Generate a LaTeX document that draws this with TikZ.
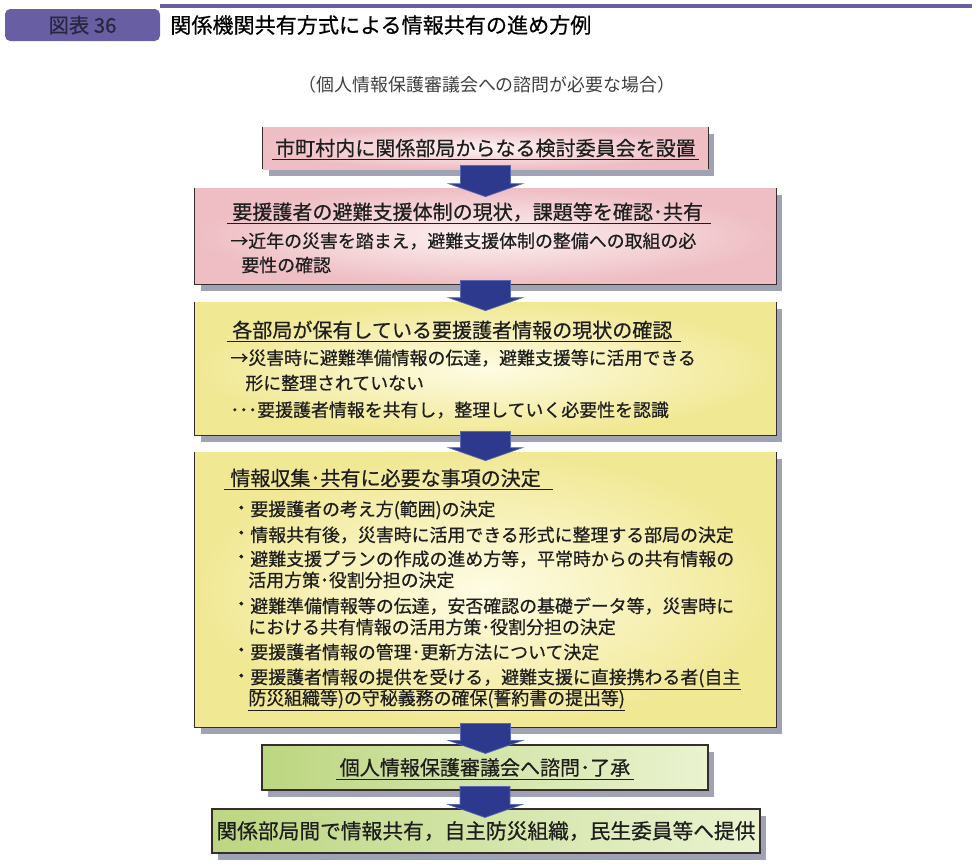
\documentclass[tikz,border=0pt]{standalone}
\usepackage{fontspec}
\setmainfont{Noto Sans CJK JP}
\newfontfamily\jpmedium{Noto Sans CJK JP}[FakeBold=0.6]
\usepackage{tikz}
\usetikzlibrary{calc,positioning,fit,shadows}
\definecolor{pinkdark}{RGB}{238,190,196}
\definecolor{pinklight}{RGB}{253,242,242}
\definecolor{yellowdark}{RGB}{241,232,148}
\definecolor{yellowlight}{RGB}{254,252,228}
\definecolor{greendark}{RGB}{188,214,128}
\definecolor{greenlight}{RGB}{234,243,208}
\definecolor{shadowgray}{RGB}{158,162,178}
\definecolor{edgedark}{RGB}{55,45,45}
\definecolor{tabpurple}{RGB}{104,94,164}
\definecolor{tabink}{RGB}{40,38,60}
\definecolor{arrowblue}{RGB}{44,57,140}
\definecolor{arrowedge}{RGB}{90,104,180}
\definecolor{inkgray}{RGB}{30,30,30}
\tikzset{
  boxshadow/.style={drop shadow={shadow xshift=0.12cm, shadow yshift=-0.13cm, fill=shadowgray, opacity=1}},
  pinkbox/.style={boxshadow, inner sep=0pt, inner color=pinklight, outer color=pinkdark},
  yellowbox/.style={boxshadow, inner sep=0pt, inner color=yellowlight, outer color=yellowdark},
  greenbox/.style={boxshadow, inner sep=0pt, left color=greendark, right color=greenlight, draw=edgedark, line width=0.6pt},
  edgerule/.style={draw=edgedark, line width=0.6pt},
  underrule/.style={draw=inkgray, line width=0.6pt},
  tabbox/.style={inner sep=0pt, fill=tabpurple, rounded corners=3pt},
  tabtext/.style={inner sep=0pt, text=tabink, font=\jpmedium\fontsize{11.6pt}{13pt}\selectfont},
  headrule/.style={draw=tabpurple, line width=1.8pt},
  headtitle/.style={anchor=west, inner sep=0pt, text=black, font=\jpmedium\fontsize{12pt}{14pt}\selectfont},
  subtitle/.style={inner sep=0pt, text=black!75, font=\fontsize{10.2pt}{12pt}\selectfont},
  headtext/.style={anchor=west, inner sep=0pt, text=inkgray, font=\jpmedium\fontsize{11.4pt}{13pt}\selectfont},
  bodytext/.style={anchor=west, inner sep=0pt, text=inkgray, font=\jpmedium\fontsize{10.2pt}{12pt}\selectfont},
  blockarrow/.style={fill=arrowblue, draw=arrowedge, line width=0.4pt, line join=miter}
}
\newcommand{\flowarrow}[2]{%
  \filldraw[blockarrow] ($(#1.south)+(-25,-4)$) -- ($(#1.south)+(25,-4)$)
    -- ($(#2.north -| #1.south)+(25,-4)$) -- ($(#2.north -| #1.south)+(37,-4)$)
    -- ($(#2.north -| #1.south)+(0,9)$) -- ($(#2.north -| #1.south)+(-37,-4)$)
    -- ($(#2.north -| #1.south)+(-25,-4)$) -- cycle;}

\begin{document}
\begin{tikzpicture}[x=0.02cm,y=-0.02cm]
          \useasboundingbox (0,0) rectangle (977,866);

          \node[tabbox, fit={(5,9) (160,41)}] (tab) {};
          \node[tabtext] (tablabel) at (tab.center) {図表 36};
          \draw[headrule] (160,6) -- (972,6);
          \node[headtitle] (title) at (170,25) {関係機関共有方式による情報共有の進め方例};
          \node[subtitle] (cond) at (487,85) {（個人情報保護審議会への諮問が必要な場合）};

          \node[pinkbox, fit={(263,127) (708,169)}] (b1) {};
          \draw[edgerule] (b1.north west) -- (b1.south west);
          \draw[edgerule] (b1.north east) -- (b1.south east);
          \node[headtext, anchor=center] (b1head) at (b1.center) {市町村内に関係部局からなる検討委員会を設置};
          \draw[underrule] ($(b1head.south west)+(-3,2)$) -- ($(b1head.south east)+(3,2)$);

          \node[pinkbox, fit={(195,188) (776,284)}] (b2) {};
          \draw[edgerule] (b2.north west) -- (b2.south west) -- (b2.south east) -- (b2.north east);
          \node[headtext] (b2head) at (232,212) {要援護者の避難支援体制の現状，課題等を確認･共有};
          \draw[underrule] ($(b2head.south west)+(-5,2)$) -- ($(b2head.south east)+(8,2)$);
          \node[bodytext] (b2line1) at (230,241) {→近年の災害を踏まえ，避難支援体制の整備への取組の必};
          \node[bodytext] (b2line2) at (241,265) {要性の確認};

          \node[yellowbox, fit={(195,302) (776,435)}] (b3) {};
          \draw[edgerule] (b3.north west) -- (b3.south west) -- (b3.south east) -- (b3.north east);
          \node[headtext] (b3head) at (232,330) {各部局が保有している要援護者情報の現状の確認};
          \draw[underrule] ($(b3head.south west)+(-5,2)$) -- ($(b3head.south east)+(8,2)$);
          \node[bodytext] (b3line1) at (230,358) {→災害時に避難準備情報の伝達，避難支援等に活用できる};
          \node[bodytext] (b3line2) at (245,383) {形に整理されていない};
          \node[bodytext] (b3line3) at (230,410) {･･･要援護者情報を共有し，整理していく必要性を認識};

          \node[yellowbox, fit={(195,452) (776,727)}] (b4) {};
          \draw[edgerule] (b4.north west) -- (b4.south west) -- (b4.south east) -- (b4.north east);
          \node[headtext] (b4head) at (230,478) {情報収集･共有に必要な事項の決定};
          \draw[underrule] ($(b4head.south west)+(-6,2)$) -- ($(b4head.south east)+(12,2)$);
          \node[bodytext] (b4dot1) at (232,510) {・};
          \node[bodytext] (b4item1) at (250,510) {要援護者の考え方(範囲)の決定};
          \node[bodytext] (b4dot2) at (232,535) {・};
          \node[bodytext] (b4item2) at (250,535) {情報共有後，災害時に活用できる形式に整理する部局の決定};
          \node[bodytext] (b4dot3) at (232,559) {・};
          \node[bodytext] (b4item3) at (250,559) {避難支援プランの作成の進め方等，平常時からの共有情報の};
          \node[bodytext] (b4item3b) at (248,580) {活用方策･役割分担の決定};
          \node[bodytext] (b4dot4) at (232,606) {・};
          \node[bodytext] (b4item4) at (250,606) {避難準備情報等の伝達，安否確認の基礎データ等，災害時に};
          \node[bodytext] (b4item4b) at (248,627) {における共有情報の活用方策･役割分担の決定};
          \node[bodytext] (b4dot5) at (232,652) {・};
          \node[bodytext] (b4item5) at (250,652) {要援護者情報の管理･更新方法について決定};
          \node[bodytext] (b4dot6) at (232,678) {・};
          \node[bodytext] (b4item6) at (250,678) {要援護者情報の提供を受ける，避難支援に直接携わる者(自主};
          \node[bodytext] (b4item6b) at (248,699) {防災組織等)の守秘義務の確保(誓約書の提出等)};
          \draw[underrule] ($(b4item6.south west)+(0,2)$) -- ($(b4item6.south east)+(0,2)$);
          \draw[underrule] ($(b4item6b.south west)+(0,2)$) -- ($(b4item6b.south east)+(0,2)$);

          \node[greenbox, fit={(262,745) (708,790)}] (b5) {};
          \node[headtext, anchor=center] (b5head) at (b5.center) {個人情報保護審議会へ諮問･了承};
          \draw[underrule] ($(b5head.south west)+(-3,2)$) -- ($(b5head.south east)+(3,2)$);

          \node[greenbox, fit={(212,809) (760,853)}] (b6) {};
          \node[headtext, anchor=center, font=\jpmedium\fontsize{11.8pt}{14pt}\selectfont] (b6head) at (b6.center) {関係部局間で情報共有，自主防災組織，民生委員等へ提供};

          \flowarrow{b1}{b2}
          \flowarrow{b2}{b3}
          \flowarrow{b3}{b4}
          \flowarrow{b4}{b5}
          \flowarrow{b5}{b6}
        \end{tikzpicture}
\end{document}
